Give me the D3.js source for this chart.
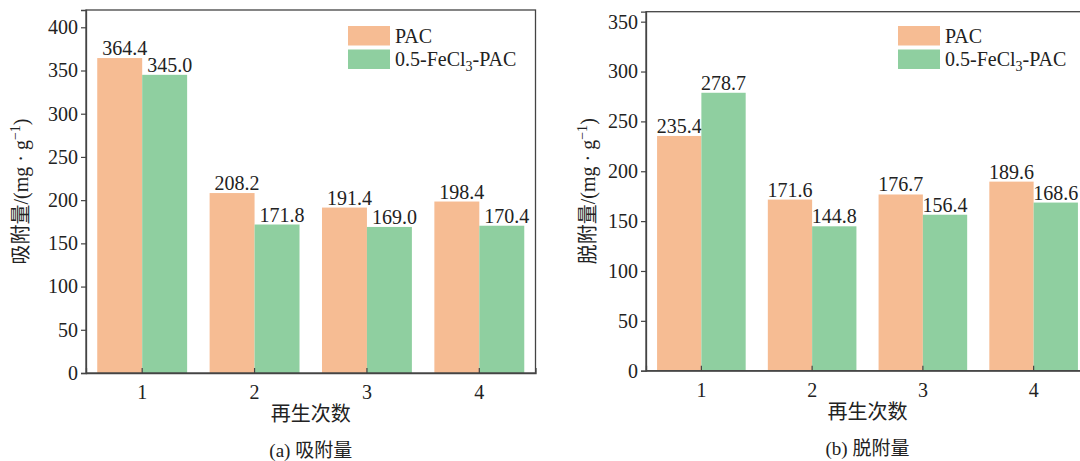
<!DOCTYPE html>
<html><head><meta charset="utf-8">
<script src="https://cdn.jsdelivr.net/npm/d3@7"></script>
<style>
body{margin:0;background:#fff;}
svg{display:block;}
text{font-family:"Liberation Serif","Noto Sans CJK SC",serif;fill:#222;}
.cjk{font-family:"Noto Sans CJK SC","Liberation Serif",serif;}
</style></head>
<body>
<svg id="c" width="1080" height="461"></svg>
<script>
const categories = ["1","2","3","4"];
const seriesNames = ["PAC","0.5-FeCl3-PAC"];
const adsPAC = [364.4, 208.2, 191.4, 198.4];
const adsFe  = [345.0, 171.8, 169.0, 170.4];
const desPAC = [235.4, 171.6, 176.7, 189.6];
const desFe  = [278.7, 144.8, 156.4, 168.6];
const adsTicks = [0,50,100,150,200,250,300,350,400];
const desTicks = [0,50,100,150,200,250,300,350];

const colors = ["#F6BC93","#8FCFA0"];
const svg = d3.select("#c");

function panel(cfg){
  const g = svg.append("g");
  const x = d3.scaleBand().domain(categories).range([cfg.left,cfg.right]).paddingInner(0.2).paddingOuter(0.1);
  const x1 = d3.scaleBand().domain([0,1]).range([0,x.bandwidth()]);
  const y = d3.scaleLinear().domain([0,cfg.ymax]).range([cfg.bottom,cfg.top]);
  const data = [cfg.s1,cfg.s2];
  data.forEach((s,si)=>{
    g.selectAll(null).data(s).enter().append("rect")
      .attr("x",(d,i)=>x(categories[i])+x1(si))
      .attr("width",x1.bandwidth())
      .attr("y",d=>y(d)).attr("height",d=>y(0)-y(d))
      .attr("fill",colors[si]);
    g.selectAll(null).data(s).enter().append("text")
      .attr("x",(d,i)=>x(categories[i])+x1(si)+x1.bandwidth()/2+cfg.labDx)
      .attr("y",d=>y(d)-3)
      .attr("text-anchor","middle").attr("font-size",20)
      .text(d=>d.toFixed(1));
  });
  g.append("rect").attr("x",cfg.left).attr("y",cfg.top).attr("width",cfg.right-cfg.left).attr("height",cfg.bottom-cfg.top)
    .attr("fill","none").attr("stroke","#444").attr("stroke-width",1.3);
  const ya = g.append("g").attr("transform",`translate(${cfg.left},0)`)
    .call(d3.axisLeft(y).tickValues(cfg.ticks).tickSize(5).tickPadding(3));
  ya.select(".domain").attr("stroke","#444").attr("stroke-width",1.3);
  ya.selectAll(".tick line").attr("stroke","#444").attr("stroke-width",1.2);
  ya.selectAll(".tick text").attr("font-size",20).attr("font-family","Liberation Serif").attr("fill","#222");
  const xa = g.append("g").attr("transform",`translate(0,${cfg.bottom})`)
    .call(d3.axisBottom(x).tickSize(-5).tickPadding(12));
  xa.select(".domain").attr("stroke","#444").attr("stroke-width",1.3);
  xa.selectAll(".tick line").attr("stroke","#444").attr("stroke-width",1.2);
  xa.selectAll(".tick text").attr("font-size",20).attr("font-family","Liberation Serif").attr("fill","#222");
  const cy = (cfg.top+cfg.bottom)/2;
  const yt = g.append("text").attr("transform",`translate(${cfg.ytx},${cy}) rotate(-90)`)
    .attr("text-anchor","middle").attr("font-size",20);
  yt.append("tspan").attr("class","cjk").text(cfg.ytitle);
  yt.append("tspan").text("/(mg · g");
  yt.append("tspan").attr("font-size",14).attr("dy",-8).text("−1");
  yt.append("tspan").attr("dy",8).text(")");
  const cx = (cfg.left+cfg.right)/2;
  g.append("text").attr("class","cjk").attr("x",cx).attr("y",cfg.xty).attr("text-anchor","middle").attr("font-size",20).text("再生次数");
  const cap = g.append("text").attr("x",cx).attr("y",cfg.capy).attr("text-anchor","middle").attr("font-size",19);
  cap.append("tspan").text(cfg.capL+" ");
  cap.append("tspan").attr("class","cjk").text(cfg.capC);
  seriesNames.forEach((n,i)=>{
    const ly = 26 + i*23.5;
    g.append("rect").attr("x",cfg.legX).attr("y",ly).attr("width",42).attr("height",19.5).attr("fill",colors[i]);
    const t = g.append("text").attr("x",cfg.legX+47).attr("y",ly+16.5).attr("font-size",20);
    if(i===0){ t.text(n); }
    else {
      t.append("tspan").text("0.5-FeCl");
      t.append("tspan").attr("font-size",14).attr("dy",5).text("3");
      t.append("tspan").attr("dy",-5).text("-PAC");
    }
  });
}

panel({left:86,right:535.5,top:10,bottom:373,ymax:420,s1:adsPAC,s2:adsFe,ticks:adsTicks,
  labDx:5,ytx:28,ytitle:"吸附量",xty:421,capy:457,capL:"(a)",capC:"吸附量",legX:348});
panel({left:646,right:1089,top:11.7,bottom:370.7,ymax:360,s1:desPAC,s2:desFe,ticks:desTicks,
  labDx:0,ytx:595,ytitle:"脱附量",xty:419,capy:455,capL:"(b)",capC:"脱附量",legX:898});
</script>
</body></html>
